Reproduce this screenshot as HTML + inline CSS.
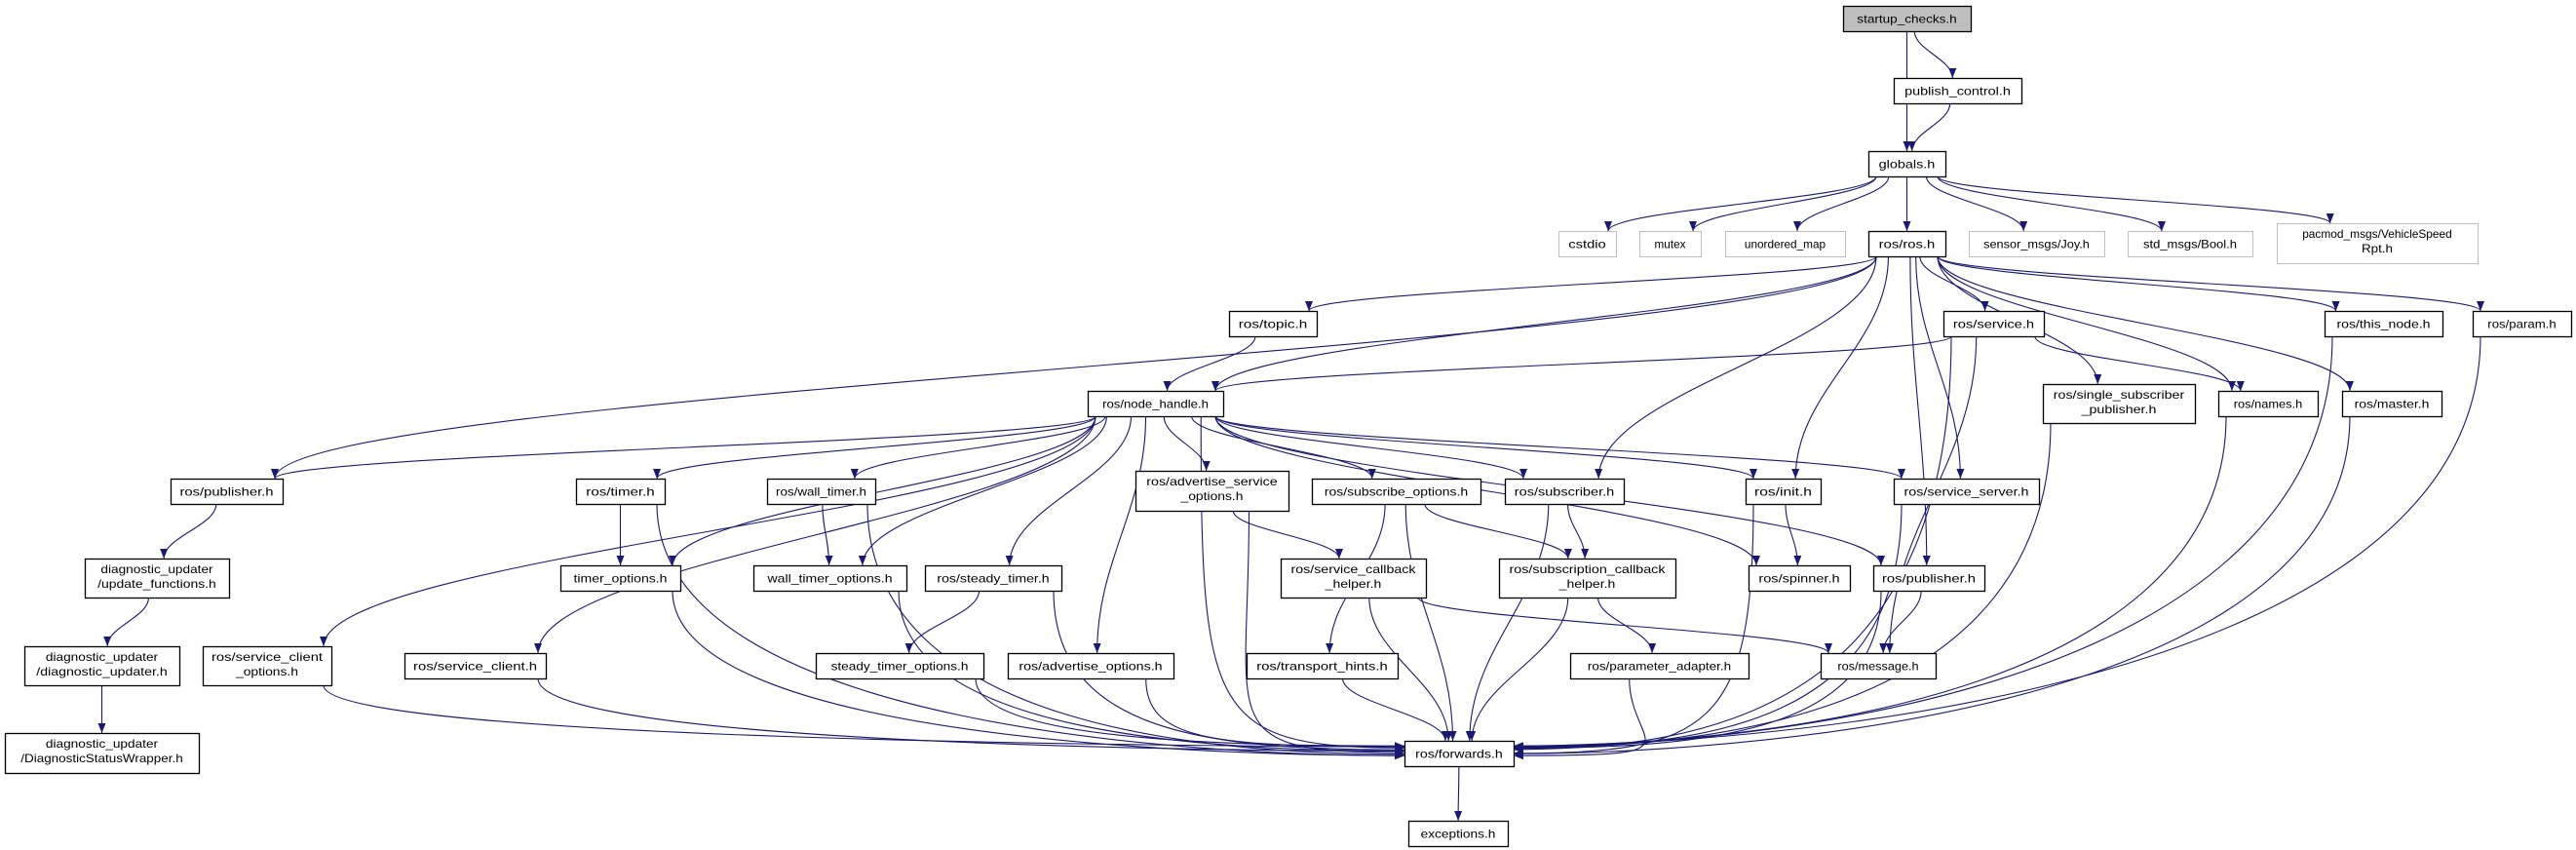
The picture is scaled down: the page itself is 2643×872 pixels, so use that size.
<!DOCTYPE html>
<html><head><meta charset="utf-8"><style>
html,body{margin:0;padding:0;background:#fff;}
svg{display:block}
text{font-family:"Liberation Sans","DejaVu Sans",sans-serif;font-size:12px;fill:#000}
</style></head><body>
<svg id="g" xmlns="http://www.w3.org/2000/svg" width="2643" height="872" viewBox="0 0 2643 872">
<defs><marker id="a" viewBox="0 0 10 8" refX="10" refY="4" markerWidth="10" markerHeight="8" markerUnits="userSpaceOnUse" orient="auto"><path d="M0,0L10,4L0,8z" fill="#191970"/></marker></defs>
<g id="e"></g><g id="n"></g>
</svg>
<script>
var N={
SC:[1891,6,131,26,["startup_checks.h"],2],
PC:[1943,80,131,26,["publish_control.h"]],
GL:[1917,155,79,26,["globals.h"]],
CS:[1599,237,59,26,["cstdio"],1],
MU:[1682,237,63,26,["mutex"],1],
UM:[1770,237,123,26,["unordered_map"],1],
RR:[1917,237,79,26,["ros/ros.h"]],
SJ:[2020,237,139,26,["sensor_msgs/Joy.h"],1],
SB:[2183,237,128,26,["std_msgs/Bool.h"],1],
PM:[2336,229,206,41,["pacmod_msgs/VehicleSpeed","Rpt.h"],1],
TP:[1261,319,90,26,["ros/topic.h"]],
SV:[1994,319,103,26,["ros/service.h"]],
TN:[2385,319,121,26,["ros/this_node.h"]],
PR:[2537,319,101,26,["ros/param.h"]],
NH:[1116,401,139,26,["ros/node_handle.h"]],
SSP:[2096,394,156,40,["ros/single_subscriber","_publisher.h"]],
NM:[2276,401,102,26,["ros/names.h"]],
MS:[2403,401,102,26,["ros/master.h"]],
PUB:[175,491,115,26,["ros/publisher.h"]],
TM:[591,491,91,26,["ros/timer.h"]],
WT:[787,491,111,26,["ros/wall_timer.h"]],
ASO:[1165,483,157,41,["ros/advertise_service","_options.h"]],
SO:[1346,491,173,26,["ros/subscribe_options.h"]],
SUB:[1544,491,122,26,["ros/subscriber.h"]],
IN:[1791,491,77,26,["ros/init.h"]],
SS:[1943,491,149,26,["ros/service_server.h"]],
UF:[87,573,148,40,["diagnostic_updater","/update_functions.h"]],
TO:[575,580,123,26,["timer_options.h"]],
WTO:[773,580,157,26,["wall_timer_options.h"]],
ST:[949,580,140,26,["ros/steady_timer.h"]],
SCH:[1314,573,149,40,["ros/service_callback","_helper.h"]],
SUBCH:[1538,573,181,40,["ros/subscription_callback","_helper.h"]],
SP:[1794,580,104,26,["ros/spinner.h"]],
PB2:[1922,580,114,26,["ros/publisher.h"]],
DU:[25,663,159,40,["diagnostic_updater","/diagnostic_updater.h"]],
SCO:[208,663,132,40,["ros/service_client","_options.h"]],
SC2:[415,670,145,26,["ros/service_client.h"]],
STO:[837,670,172,26,["steady_timer_options.h"]],
AO:[1034,670,170,26,["ros/advertise_options.h"]],
TH:[1279,670,155,26,["ros/transport_hints.h"]],
PA:[1611,670,183,26,["ros/parameter_adapter.h"]],
MSG:[1868,670,118,26,["ros/message.h"]],
DSW:[5,752,199,41,["diagnostic_updater","/DiagnosticStatusWrapper.h"]],
FW:[1441,760,112,26,["ros/forwards.h"]],
EX:[1445,842,102,26,["exceptions.h"]]
};
var E="SC-GL SC-PC PC-GL GL-CS GL-MU GL-UM GL-RR GL-SJ GL-SB GL-PM RR-PUB RR-TP RR-NH RR-SV RR-SUB RR-IN RR-PB2 RR-SS RR-SSP RR-NM RR-MS RR-TN RR-PR TP-NH SV-NH SV-NM SV-MSG SV-FW NH-PUB NH-SCO NH-FW NH-SC2 NH-TM NH-TO NH-WT NH-WTO NH-ST NH-AO NH-ASO NH-SO NH-SUB NH-SS NH-IN NH-SP NH-PB2 PUB-UF UF-DU DU-DSW TM-TO TM-FW WT-WTO WT-FW TO-FW WTO-FW ST-STO ST-FW STO-FW AO-FW ASO-SCH ASO-FW SO-TH SO-FW SO-SUBCH SUB-SUBCH SUB-FW SCH-FW SCH-MSG SUBCH-PA SUBCH-FW TH-FW PA-FW IN-SP IN-FW SS-FW PB2-MSG PB2-FW SSP-FW NM-FW MS-FW TN-FW PR-FW SCO-FW SC2-FW FW-EX".split(" ");
var ns="http://www.w3.org/2000/svg",eg=document.getElementById("e"),ng=document.getElementById("n");
function cl(v,a,b){return Math.max(a,Math.min(b,v));}
E.forEach(function(s){var p=s.split("-"),f=N[p[0]],t=N[p[1]];
 var fcx=f[0]+f[2]/2,tcx=t[0]+t[2]/2,fy=f[1]+f[3],ty=t[1];
 var sx=cl(fcx+(tcx-fcx)*0.15,f[0]+8,f[0]+f[2]-8),sy=fy,d;
 if(p[1]=="FW"&&fy<740&&Math.abs(fcx-1497)>180){
  var left=fcx<1497,ex=left?1441:1553,ey=770+((fcx%13)-6)*0.8;
  var dy=ey-sy;
  d="M"+sx+","+sy+"C"+sx+","+(sy+dy*0.9)+" "+(left?ex-200:ex+200)+","+ey+" "+ex+","+ey;
 }else{
  var ex2=cl(tcx+(fcx-tcx)*0.1,t[0]+8,t[0]+t[2]-8);
  if(ty<sy){ty=t[1];}
  var dy2=ty-sy;
  d="M"+sx+","+sy+"C"+sx+","+(sy+dy2*0.4)+" "+ex2+","+(ty-dy2*0.4)+" "+ex2+","+ty;
 }
 var pa=document.createElementNS(ns,"path");pa.setAttribute("d",d);pa.setAttribute("fill","none");pa.setAttribute("stroke","#191970");pa.setAttribute("stroke-width","1.1");pa.setAttribute("marker-end","url(#a)");eg.appendChild(pa);
});
for(var k in N){var b=N[k],r=document.createElementNS(ns,"rect");
 r.setAttribute("x",b[0]+.5);r.setAttribute("y",b[1]+.5);r.setAttribute("width",b[2]);r.setAttribute("height",b[3]);
 r.setAttribute("fill",b[5]==2?"#bfbfbf":"#fff");r.setAttribute("stroke",b[5]==1?"#bfbfbf":"#000");r.setAttribute("stroke-width",b[5]==1?"1":"1.3");ng.appendChild(r);
 var L=b[4];L.forEach(function(tx,i){var t=document.createElementNS(ns,"text");
  t.setAttribute("x",b[0]+b[2]/2);t.setAttribute("text-anchor","middle");
  var y=L.length==1?b[1]+b[3]/2+4.5:b[1]+15+i*15;t.setAttribute("y",y);
  var w=b[2]-18;t.setAttribute("textLength",Math.min(w,tx.length*6.4));t.setAttribute("lengthAdjust","spacingAndGlyphs");
  t.textContent=tx;ng.appendChild(t);});
}
</script>
</body></html>
